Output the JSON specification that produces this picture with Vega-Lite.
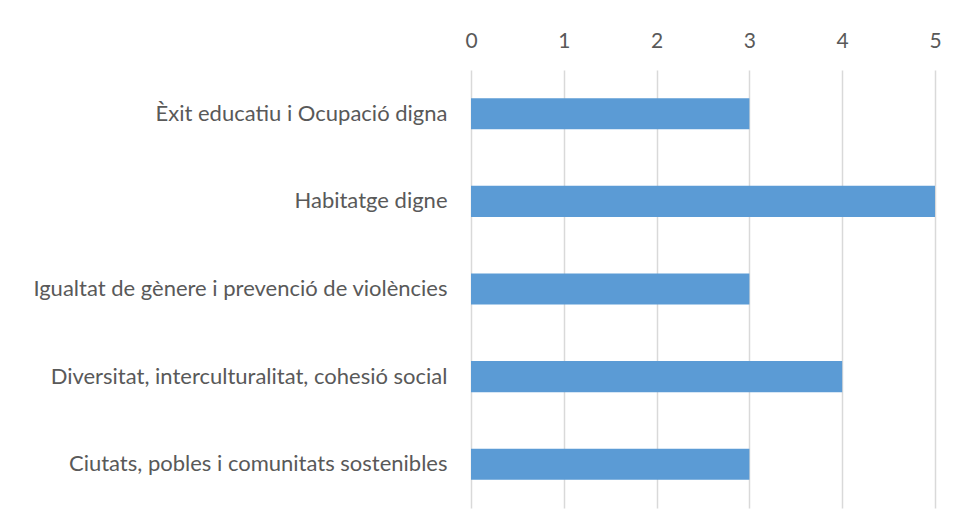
{
  "$schema": "https://vega.github.io/schema/vega-lite/v6.json",
  "autosize": {"type": "none"},
  "padding": {"left": 471, "top": 70, "right": 23, "bottom": 23},
  "width": 464,
  "height": 438,
  "background": "white",
  "data": {"values": [
    {"tema": "Èxit educatiu i Ocupació digna", "valor": 3},
    {"tema": "Habitatge digne", "valor": 5},
    {"tema": "Igualtat de gènere i prevenció de violències", "valor": 3},
    {"tema": "Diversitat, interculturalitat, cohesió social", "valor": 4},
    {"tema": "Ciutats, pobles i comunitats sostenibles\u00a0", "valor": 3}
  ]},
  "mark": {"type": "bar", "color": "#5B9BD5"},
  "encoding": {
    "y": {
      "field": "tema", "type": "nominal", "sort": null, "title": null,
      "scale": {"paddingInner": 0.645, "paddingOuter": 0.3225},
      "axis": {"domain": false, "ticks": false, "labelPadding": 24, "labelFont": "Lato", "labelFontSize": 22, "labelColor": "#595959", "labelLimit": 500}
    },
    "x": {
      "field": "valor", "type": "quantitative", "title": null,
      "scale": {"domain": [0, 5], "nice": false},
      "axis": {"orient": "top", "domain": false, "ticks": false, "values": [0,1,2,3,4,5], "labelOverlap": false, "labelPadding": 19, "labelFont": "Lato", "labelFontSize": 21, "labelColor": "#595959", "gridColor": "#d9d9d9", "gridWidth": 1.5, "labelFlush": false}
    }
  },
  "config": {"view": {"stroke": null}}
}
